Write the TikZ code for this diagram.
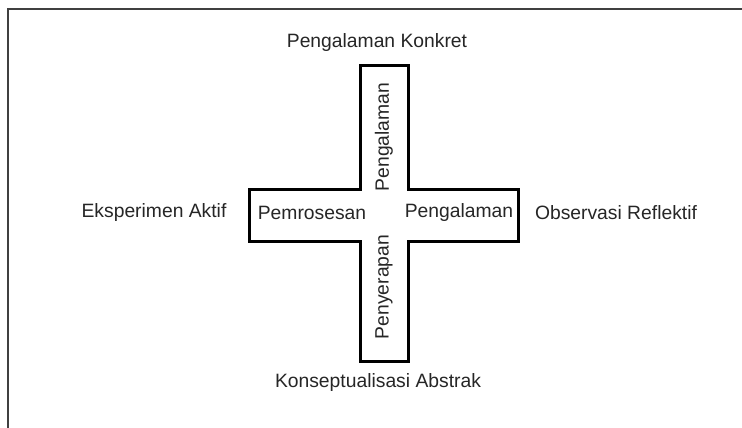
\documentclass[tikz,border=0pt]{standalone}
\usepackage{fontspec}
\setmainfont{Liberation Sans}
\begin{document}
\begin{tikzpicture}[x=1pt,y=-1pt,
  lbl/.style={inner sep=0pt,font=\fontsize{19.3}{22}\selectfont,text=black!85},
  crossline/.style={line width=3pt,black,line join=miter},
  frameline/.style={line width=2pt,black!75}]
\useasboundingbox (0,0) rectangle (742,428);
\fill[white] (0,0) rectangle (742,428);
\draw[frameline] (8,428) -- (8,9) -- (742,9);
\draw[crossline] (360,66) -- (408,66) -- (408,189) -- (518,189) -- (518,241) -- (408,241) -- (408,361) -- (360,361) -- (360,241) -- (249,241) -- (249,189) -- (360,189) -- cycle;
\node[lbl] (pk) at (377,43) {Pengalaman Konkret};
\node[lbl] (ka) at (378,383) {Konseptualisasi Abstrak};
\node[lbl] (ea) at (154,213) {Eksperimen Aktif};
\node[lbl] (or) at (616,213) {Observasi Reflektif};
\node[lbl] (pm) at (312,213) {Pemrosesan};
\node[lbl] (ph) at (459,213) {Pengalaman};
\node[lbl,rotate=90] (pv) at (384,137) {Pengalaman};
\node[lbl,rotate=90] (py) at (384,287) {Penyerapan};
\end{tikzpicture}
\end{document}
